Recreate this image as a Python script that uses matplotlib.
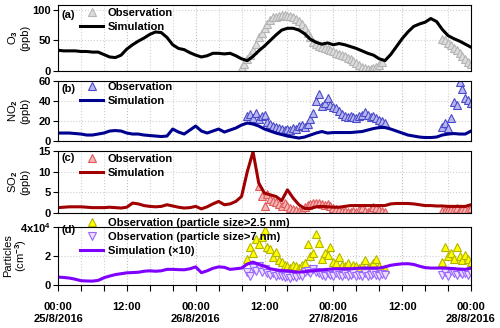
import numpy as np
import matplotlib
matplotlib.use('Agg')
import matplotlib.pyplot as plt
from matplotlib.ticker import MultipleLocator

plt.rcParams['font.family'] = ['Liberation Sans', 'DejaVu Sans']
plt.rcParams['font.weight'] = 'bold'
plt.rcParams['mathtext.fontset'] = 'custom'
plt.rcParams['mathtext.bf'] = 'Liberation Sans:bold'
plt.rcParams['mathtext.rm'] = 'Liberation Sans:bold'
plt.rcParams['mathtext.default'] = 'bf'

# hours since 25/8/2016 00:00
t_sim = np.arange(0, 73)
t_obs1 = np.arange(32.0, 57.01, 0.5)
t_obs2 = np.arange(66.5, 72.01, 0.5)
nan = np.nan

o3_sim = [34, 33, 33, 33, 32, 32, 31, 31, 27, 23, 22, 26, 36, 43, 49, 54, 60, 64, 63, 55,
          43, 37, 35, 30, 26, 23, 25, 29, 29, 28, 29, 25, 20, 17, 24, 33, 41, 50, 59, 67,
          70, 70, 67, 61, 52, 47, 44, 46, 43, 45, 43, 40, 37, 33, 29, 26, 20, 17, 27, 40,
          53, 64, 73, 77, 80, 86, 81, 68, 58, 53, 49, 44, 39]
o3_obs1 = [7, 12, 20, 27, 35, 44, 55, 62, 70, 77, 83, 88, 89, 90, 91, 91, 90, 90, 88, 86,
           82, 77, 70, 63, 55, 48, 44, 41, 39, 37, 36, 34, 33, 30, 28, 26, 24, 22, 19, 16,
           13, 10, 7, 5, 4, 4, 5, 7, 10, 14, nan]
o3_obs2 = [nan, 52, 50, 46, 42, 38, 35, 30, 25, 20, 15, 11]

no2_sim = [8, 8, 8, 7.5, 7, 6, 6, 7, 8, 10, 10.5, 10, 8, 7, 7, 6, 5.5, 5, 4.5, 5,
           12, 9, 7, 11, 15, 10, 8, 10, 12, 9, 11, 13, 16, 18, 17, 15, 12, 10, 8, 6.5,
           5, 4, 3, 4, 6, 8, 9.5, 8, 8.5, 8.5, 8.5, 8.5, 9, 9.5, 11, 12.5, 13.5, 13.5, 12, 10,
           8, 6, 5, 4, 3.5, 3.5, 4, 6, 7, 7.5, 7, 7, 10]
no2_obs1 = [nan, nan, 25, 27, 23, 28, 22, 25, 26, 19, 17, 15, 14, 13, 12, 11, 12, 11, 13, 12,
            15, 16, 14, 17, 22, 28, 40, 47, 35, 38, 43, 36, 34, 33, 30, 27, 25, 24, 25, 24,
            23, 25, 26, 29, 26, 24, 25, 23, 21, 20, 18]
no2_obs2 = [nan, 14, 18, 13, 23, 39, 36, 59, 52, 43, 41, 38]

so2_sim = [1.3, 1.4, 1.5, 1.5, 1.5, 1.4, 1.3, 1.3, 1.3, 1.4, 1.3, 1.2, 1.4, 2.4, 2.2, 1.8, 1.6, 1.5, 1.6, 2.0,
           1.7, 1.4, 1.2, 1.3, 1.6, 1.0, 1.5, 2.2, 2.8, 2.0, 2.2, 2.8, 4.0, 10.0, 14.8, 7.2, 4.8, 4.4, 4.0, 3.0,
           5.6, 3.6, 2.0, 1.1, 1.1, 1.5, 1.6, 1.5, 1.4, 1.4, 1.6, 1.8, 1.8, 1.8, 1.8, 1.8, 1.8, 1.8, 2.2, 2.3,
           2.3, 2.3, 2.2, 2.0, 1.8, 1.8, 1.7, 1.7, 1.6, 1.6, 1.6, 1.6, 2.0]
so2_obs1 = [nan, nan, nan, nan, nan, nan, 6.5, 4.2, 1.6, 4.5, 3.5, 3.0, 2.6, 2.2, 1.8, 2.5, 1.6, 1.2, 1.0, 0.8,
            0.6, 0.8, 1.5, 2.0, 2.2, 2.4, 2.3, 2.4, 2.2, 2.0, 2.2, 1.8, 1.2, 1.0, 0.8, 0.6, 0.5, 0.3, 0.3, 0.4,
            0.3, 0.8, 1.2, 0.5, 0.3, 1.0, 1.4, 1.2, 0.8, 0.4, 0.3]
so2_obs2 = [nan, 0.4, 0.6, 0.8, 1.0, 0.9, 1.1, 0.7, 1.0, 0.9, 0.8, 1.3]

# particles in 10^4 cm-3
pn_sim = [0.55, 0.52, 0.48, 0.40, 0.30, 0.28, 0.27, 0.32, 0.50, 0.62, 0.72, 0.78, 0.84, 0.86, 0.88, 0.95, 0.98, 0.95, 0.98, 1.08,
          1.08, 1.06, 1.05, 1.12, 1.25, 0.85, 0.98, 1.15, 1.25, 1.22, 1.08, 1.12, 1.17, 1.45, 1.58, 1.42, 1.30, 1.12, 1.05, 1.0,
          0.98, 0.92, 0.89, 0.92, 0.96, 1.0, 1.05, 1.08, 1.12, 1.12, 1.12, 1.12, 1.15, 1.17, 1.17, 1.17, 1.17, 1.25, 1.36, 1.42,
          1.46, 1.47, 1.42, 1.3, 1.2, 1.17, 1.17, 1.17, 1.16, 1.12, 1.1, 1.08, 1.17]
pn25_obs1 = [nan, nan, 1.8, 2.6, 2.2, 3.2, 2.8, 3.3, 3.8, 2.6, 2.5, 1.9, 2.3, 1.7, 1.6, 1.4, 1.3, 1.2, 1.4, 1.3,
             1.2, 1.4, 1.5, 2.8, 2.0, 2.2, 3.5, 2.9, 1.8, 2.2, 2.1, 2.6, 1.6, 1.5, 1.9, 1.4, 1.3, 1.5, 1.2, 1.4,
             1.3, 1.2, 1.4, 1.7, 1.2, 1.3, 1.5, 1.8, 1.3, 1.0, 1.1]
pn25_obs2 = [nan, 1.6, 2.6, 2.0, 2.2, 1.8, 2.6, 2.0, 1.7, 2.1, 1.8, 1.6]
pn7_obs1 = [nan, nan, 0.9, 0.6, 1.2, 1.0, 1.3, 0.9, 1.1, 0.8, 0.7, 0.8, 0.6, 0.7, 0.6, 0.55, 0.6, 0.5, 0.6, 0.55,
            0.7, 0.65, 0.9, 1.0, 0.8, 1.1, 0.9, 0.8, 0.7, 0.6, 0.8, 0.7, 0.6, 0.8, 0.7, 0.6, 0.75, 0.6, 0.7, 0.8,
            0.6, 0.7, 0.65, 0.8, 0.6, 0.7, 0.8, 0.7, 0.6, 0.75, 0.7]
pn7_obs2 = [nan, 0.7, 0.9, 0.6, 1.0, 0.8, 0.7, 0.9, 0.75, 0.8, 0.7, 0.85]

xticklabels = ['00:00\n25/8/2016', '12:00', '00:00\n26/8/2016', '12:00',
               '00:00\n27/8/2016', '12:00', '00:00\n28/8/2016']

fs = 8
fig = plt.figure(figsize=(5, 3.28), dpi=100)
L, W = 0.116, 0.826
ax_a = fig.add_axes([L, 0.7835, W, 0.201])
ax_b = fig.add_axes([L, 0.570, W, 0.183])
ax_c = fig.add_axes([L, 0.3506, W, 0.189])
ax_d = fig.add_axes([L, 0.131, W, 0.177])
axes = [ax_a, ax_b, ax_c, ax_d]


def obs(ax, y1, y2, marker, fc, ec, label):
    ax.plot(t_obs1, y1, ls='none', marker=marker, ms=5.8, mfc=fc, mec=ec, mew=0.8, label=label)
    ax.plot(t_obs2, y2, ls='none', marker=marker, ms=5.8, mfc=fc, mec=ec, mew=0.8)


obs(ax_a, o3_obs1, o3_obs2, '^', '#dcdcdc', '#b4b4b4', 'Observation')
ax_a.plot(t_sim, o3_sim, color='black', lw=2.2, label='Simulation')
ax_a.set_ylim(0, 108)
ax_a.set_yticks([0, 50, 100])
ax_a.set_ylabel('O$_3$\n(ppb)', linespacing=1.0)

obs(ax_b, no2_obs1, no2_obs2, '^', '#b8b8f0', '#4a4ac8', 'Observation')
ax_b.plot(t_sim, no2_sim, color='#000090', lw=2.2, label='Simulation')
ax_b.set_ylim(0, 60)
ax_b.set_yticks([0, 20, 40, 60])
ax_b.set_ylabel('NO$_2$\n(ppb)', linespacing=1.0)

obs(ax_c, so2_obs1, so2_obs2, '^', '#f6b4b4', '#e05a5a', 'Observation')
ax_c.plot(t_sim, so2_sim, color='#a00000', lw=2.2, label='Simulation')
ax_c.set_ylim(0, 15)
ax_c.set_yticks([0, 5, 10, 15])
ax_c.set_ylabel('SO$_2$\n(ppb)', linespacing=1.0)

obs(ax_d, pn25_obs1, pn25_obs2, '^', '#ffff00', '#b4b400', 'Observation (particle size>2.5 nm)')
obs(ax_d, pn7_obs1, pn7_obs2, 'v', '#ece0ff', '#9966ff', 'Observation (particle size>7 nm)')
ax_d.plot(t_sim, pn_sim, color='#7f00ff', lw=2.2, label='Simulation (×10)')
ax_d.set_ylim(0, 4)
ax_d.set_yticks([0, 2, 4])
ax_d.set_yticklabels(['0', '2', '4x10$^4$'])
ax_d.set_ylabel('Particles\n(cm$^{-3}$)', linespacing=1.0)

letters = ['(a)', '(b)', '(c)', '(d)']
letter_y = [0.85, 0.87, 0.89, 0.95]
leg_top = [0.95, 0.99, 0.95, 1.155]
for ax, lt, ly, lg in zip(axes, letters, letter_y, leg_top):
    ax.set_xlim(0, 72)
    ax.xaxis.set_major_locator(MultipleLocator(12))
    ax.xaxis.set_minor_locator(MultipleLocator(4))
    ax.grid(which='major', axis='x', color='#c0c0c0', lw=0.8, ls=':')
    ax.grid(which='minor', axis='x', color='#d0d0d0', lw=0.8, ls=':')
    ax.grid(which='major', axis='y', color='#d0d0d0', lw=0.8, ls=':')
    ax.set_axisbelow(True)
    ax.tick_params(axis='y', labelsize=fs, length=3.5, width=0.8, pad=1.5)
    ax.yaxis.label.set_size(fs)
    ax.yaxis.set_label_coords(-0.067, 0.5)
    for s in ax.spines.values():
        s.set_linewidth(0.8)
    ax.text(0.008, ly, lt, transform=ax.transAxes, fontsize=fs, va='center', ha='left')
    ax.legend(loc='upper left', bbox_to_anchor=(0.053, lg), frameon=False, fontsize=fs,
              numpoints=1, handlelength=2.1, handletextpad=0.4, labelspacing=0.35,
              borderpad=0, borderaxespad=0)

for ax in axes[:3]:
    ax.tick_params(axis='x', which='both', length=0, labelbottom=False)

ax_d.set_xticks(np.arange(0, 73, 12))
ax_d.set_xticklabels(xticklabels, linespacing=1.35)
ax_d.tick_params(axis='x', which='both', length=4, width=0.8, labelsize=fs, pad=8)
ax_d.yaxis.set_label_coords(-0.07, 0.5)

fig.savefig('out.png', dpi=100)
